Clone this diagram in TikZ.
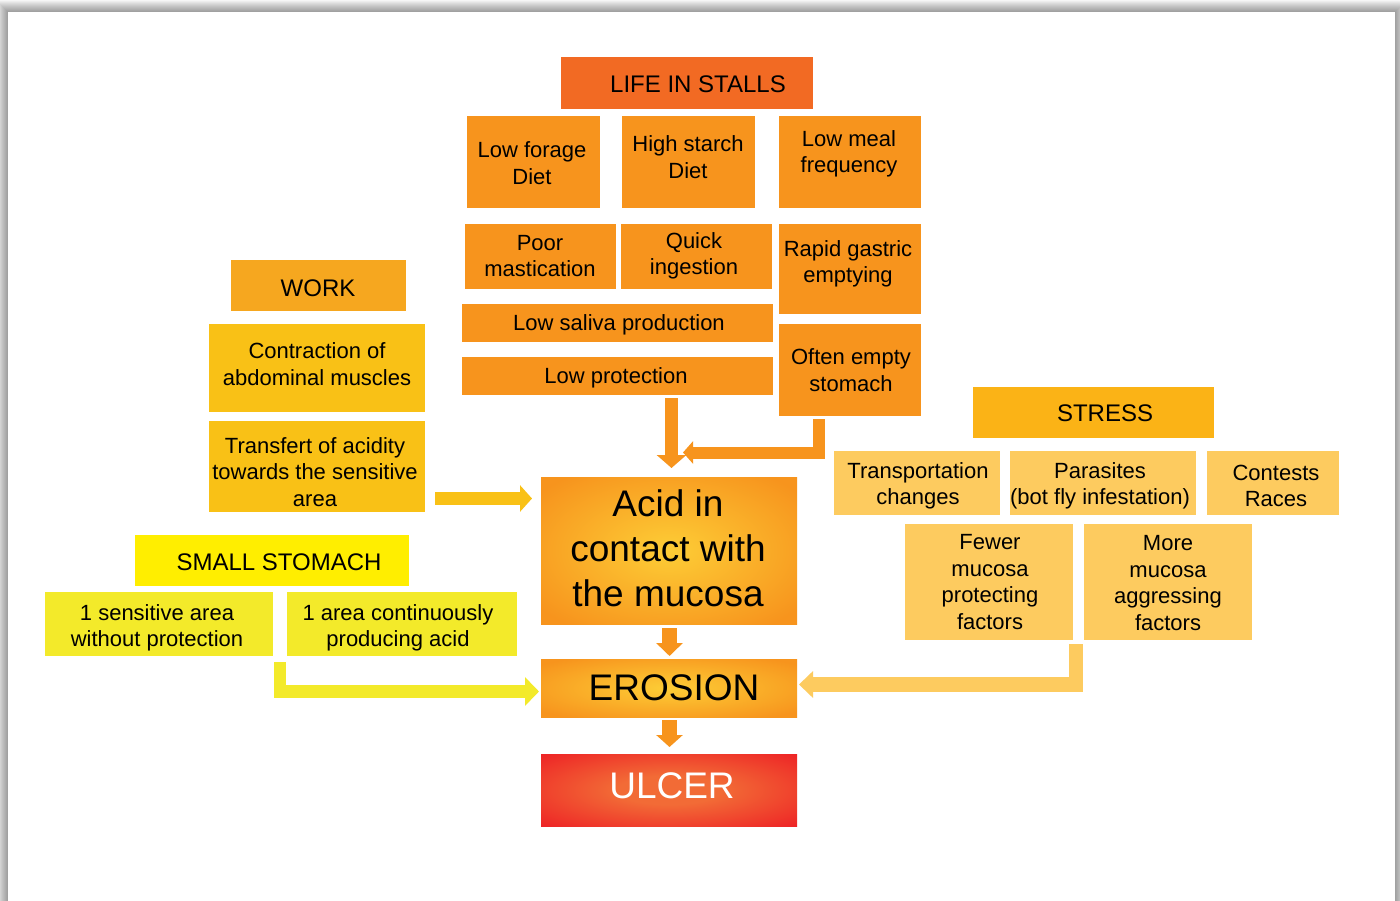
\documentclass[tikz,border=0pt]{standalone}
\usepackage{fontspec}
\setmainfont{Liberation Sans}
\usetikzlibrary{arrows.meta}
\definecolor{lifeC}{HTML}{F26A23}
\definecolor{stallC}{HTML}{F7941D}
\definecolor{workC}{HTML}{F6A71F}
\definecolor{workI}{HTML}{F9C116}
\definecolor{smallC}{HTML}{FFEE00}
\definecolor{smallI}{HTML}{F3EA2A}
\definecolor{stressC}{HTML}{FBB316}
\definecolor{stressI}{HTML}{FDCB5F}
\definecolor{acidIn}{HTML}{FDCD36}
\definecolor{ulcIn}{HTML}{F26B36}
\definecolor{ulcOut}{HTML}{ED1C24}
\pgfdeclareradialshading{acidsh}{\pgfpoint{0bp}{0bp}}{color(0bp)=(acidIn); color(32bp)=(stallC); color(50bp)=(stallC)}
\pgfdeclareradialshading{ulcsh}{\pgfpoint{0bp}{0bp}}{color(0bp)=(ulcIn); color(10bp)=(ulcIn); color(38bp)=(ulcOut); color(50bp)=(ulcOut)}
\tikzset{
  box/.style={inner sep=0pt, outer sep=0pt, draw=none},
  txt/.style={align=center, inner sep=0pt, yshift=-2pt, font=\fontsize{22}{26.5}\selectfont},
  hdr/.style={align=center, inner sep=0pt, font=\fontsize{24}{29}\selectfont},
  bigt/.style={align=center, inner sep=0pt, font=\fontsize{37}{45}\selectfont},
  blk/.style={line width=#1, line join=miter, line cap=butt},
}
\newcommand{\bx}[6]{\node[box, #6, minimum width={(#4-#2)*1pt}, minimum height={(#5-#3)*1pt}] (#1) at ({(#2+#4)/2},{(#3+#5)/2}) {};}
\newcommand{\tx}[5]{\node[#4] (#1) at (#2,#3) {#5};}
\begin{document}
\begin{tikzpicture}[x=1pt,y=-1pt]
\useasboundingbox (0,0) rectangle (1400,901);
\fill[white] (0,0) rectangle (1400,901);
\foreach \i in {1,...,12} \fill[black, opacity=0.035] ({8-\i},{12-\i}) rectangle ({1395+\i},930);
\fill[white] (8,12) rectangle (1395,930);

% LIFE IN STALLS
\bx{life}{561}{57}{813}{109}{fill=lifeC}
\tx{lifeT}{698}{84}{hdr}{LIFE IN STALLS}
\bx{forage}{467}{116}{600}{208}{fill=stallC}
\tx{forageT}{532}{161}{txt}{Low forage\\Diet}
\bx{starch}{622}{116}{755}{208}{fill=stallC}
\tx{starchT}{688}{155}{txt}{High starch\\Diet}
\bx{meal}{779}{116}{921}{208}{fill=stallC}
\tx{mealT}{849}{152}{txt}{Low meal\\frequency}
\bx{poor}{465}{224}{616}{289}{fill=stallC}
\tx{poorT}{540}{254}{txt}{Poor\\mastication}
\bx{quick}{621}{224}{772}{289}{fill=stallC}
\tx{quickT}{694}{254}{txt}{Quick\\ingestion}
\bx{rapid}{779}{224}{921}{314}{fill=stallC}
\tx{rapidT}{848}{262}{txt}{Rapid gastric\\emptying}
\bx{saliva}{462}{304}{773}{342}{fill=stallC}
\tx{salivaT}{619}{323}{txt}{Low saliva production}
\bx{often}{779}{324}{921}{416}{fill=stallC}
\tx{oftenT}{851}{368}{txt}{Often empty\\stomach}
\bx{lowprot}{462}{357}{773}{395}{fill=stallC}
\tx{lowprotT}{616}{376}{txt}{Low protection}

% WORK
\bx{work}{231}{260}{406}{311}{fill=workC}
\tx{workT}{318}{288}{hdr}{WORK}
\bx{contr}{209}{324}{425}{412}{fill=workI}
\tx{contrT}{317}{362}{txt}{Contraction of\\abdominal muscles}
\bx{transf}{209}{421}{425}{512}{fill=workI}
\tx{transfT}{315}{470}{txt}{Transfert of acidity\\towards the sensitive\\area}

% SMALL STOMACH
\bx{small}{135}{535}{409}{586}{fill=smallC}
\tx{smallT}{279}{562}{hdr}{SMALL STOMACH}
\bx{sens}{45}{592}{273}{656}{fill=smallI}
\tx{sensT}{157}{626}{txt}{1 sensitive area\\without protection}
\bx{cont}{287}{592}{517}{656}{fill=smallI}
\tx{contT}{398}{626}{txt}{1 area continuously\\producing acid}

% STRESS
\bx{stress}{973}{387}{1214}{438}{fill=stressC}
\tx{stressT}{1105}{413}{hdr}{STRESS}
\bx{transp}{834}{451}{1000}{515}{fill=stressI}
\tx{transpT}{918}{484}{txt}{Transportation\\changes}
\bx{paras}{1010}{451}{1196}{515}{fill=stressI}
\tx{parasT}{1100}{484}{txt}{Parasites\\(bot fly infestation)}
\bx{contest}{1207}{451}{1339}{515}{fill=stressI}
\tx{contestT}{1276}{484}{txt}{Contests\\Races}
\bx{fewer}{905}{524}{1073}{640}{fill=stressI}
\tx{fewerT}{990}{580}{txt}{Fewer\\mucosa\\protecting\\factors}
\bx{more}{1084}{524}{1252}{640}{fill=stressI}
\tx{moreT}{1168}{581}{txt}{More\\mucosa\\aggressing\\factors}

% central chain
\bx{acid}{541}{477}{797}{624}{shading=acidsh}
\tx{acidT}{668}{548}{bigt}{Acid in\\contact with\\the mucosa}
\bx{erosion}{541}{659}{797}{717}{shading=acidsh}
\tx{erosionT}{674}{688}{bigt}{EROSION}
\bx{ulcer}{541}{754}{797}{826}{shading=ulcsh}
\tx{ulcerT}{672}{786}{bigt, text=white}{ULCER}

% arrows
\coordinate (c1) at (671.5,0);
\draw[blk=13pt, stallC, -{Triangle[width=29pt,length=13pt]}, shorten <=3pt, shorten >=9pt] (lowprot.south -| c1) -- (acid.north -| c1);
\coordinate (c2) at (818.5,452.5);
\coordinate (c2e) at (683,452.5);
\draw[blk=12pt, stallC, -{Triangle[width=22pt,length=10pt]}, shorten <=3pt] (often.south -| c2) -- (c2) -- (c2e);
\coordinate (c3) at (0,498.5);
\draw[blk=13pt, workI, -{Triangle[width=26pt,length=12pt]}, shorten <=10pt, shorten >=9pt] (transf.east |- c3) -- (acid.west |- c3);
\coordinate (c4) at (669.5,0);
\draw[blk=15pt, stallC, -{Triangle[width=26pt,length=13pt]}, shorten <=4pt, shorten >=3pt] (acid.south -| c4) -- (erosion.north -| c4);
\draw[blk=15pt, stallC, -{Triangle[width=26pt,length=12pt]}, shorten <=3pt, shorten >=7pt] (erosion.south -| c4) -- (ulcer.north -| c4);
\coordinate (c5) at (280,662);
\coordinate (c5b) at (280,691.5);
\draw[blk=12.5pt, smallI, -{Triangle[width=28pt,length=14pt]}, shorten >=2pt] (c5) -- (c5b) -- (erosion.west |- c5b);
\coordinate (c6) at (1076,644);
\coordinate (c6b) at (1076,684.5);
\draw[blk=14.5pt, stressI, -{Triangle[width=26pt,length=14pt]}, shorten >=2pt] (c6) -- (c6b) -- (erosion.east |- c6b);
\end{tikzpicture}
\end{document}
